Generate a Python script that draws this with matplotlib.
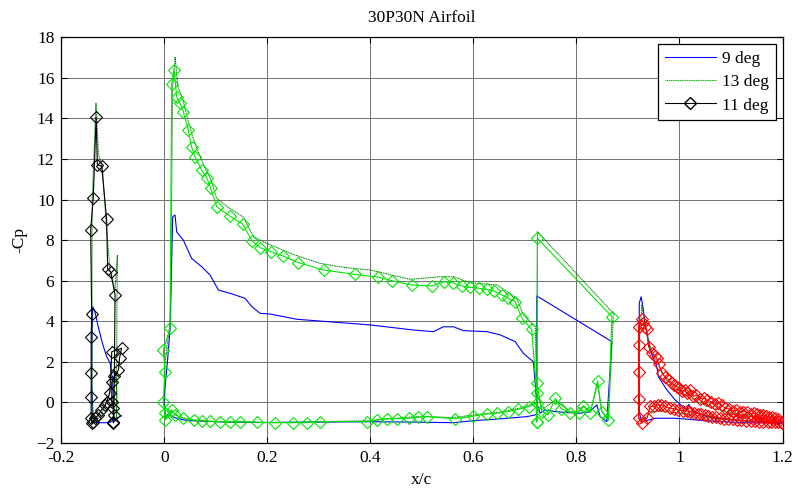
import matplotlib
matplotlib.use("Agg")
import matplotlib.pyplot as plt
from matplotlib.lines import Line2D

plt.rcParams['font.family'] = ['Liberation Serif', 'DejaVu Serif']

# ---------------- data ----------------
title = "30P30N Airfoil"
xlabel = "x/c"
ylabel = "-Cp"
legend_labels = ["9 deg", "13 deg", "11 deg"]
xticks = [-0.2, 0, 0.2, 0.4, 0.6, 0.8, 1, 1.2]
xtick_labels = ["-0.2", "0", "0.2", "0.4", "0.6", "0.8", "1", "1.2"]
yticks = [-2, 0, 2, 4, 6, 8, 10, 12, 14, 16, 18]

# ---- 9 deg (blue) ----
slat9_x = [-0.083, -0.090, -0.097, -0.100, -0.103, -0.110, -0.120, -0.130, -0.138, -0.141,
           -0.1405, -0.139, -0.135, -0.128, -0.120, -0.112, -0.105, -0.100, -0.098]
slat9_y = [-0.66, -0.75, -0.85, -0.90, -0.95, -1.00, -1.00, -1.00, -0.95, 1.00,
           3.00, 4.72, 4.50, 3.70, 2.90, 2.26, 1.93, 1.00, -0.86]

main9_x = [0.723, 0.7037, 0.652, 0.600, 0.561, 0.480, 0.400, 0.300, 0.186, 0.100, 0.050,
           0.037, 0.020, 0.008, 0.002, 0.000, 0.0014, 0.006, 0.011, 0.0163, 0.0208, 0.024,
           0.0369, 0.053, 0.0726, 0.0887, 0.105, 0.1276, 0.1567, 0.170, 0.186, 0.205,
           0.257, 0.400, 0.4835, 0.5225, 0.5417, 0.561, 0.5806, 0.626, 0.652, 0.681,
           0.697, 0.7165, 0.723, 0.7295, 0.739, 0.759, 0.7815, 0.807, 0.825, 0.8396,
           0.846, 0.859, 0.8687, 0.723, 0.723]
main9_y = [-0.60, -0.70, -0.81, -0.90, -1.00, -0.97, -0.95, -0.97, -0.99, -0.95, -0.90,
           -0.86, -0.75, -0.60, -0.70, 0.00, 0.78, 2.00, 3.57, 9.15, 9.24, 8.41,
           8.00, 7.10, 6.69, 6.28, 5.54, 5.38, 5.13, 4.72, 4.39, 4.36,
           4.10, 3.82, 3.57, 3.49, 3.73, 3.73, 3.54, 3.49, 3.33, 3.00,
           2.42, 2.00, -0.04, -0.53, -0.37, -0.45, -0.50, -0.53, -0.47, -0.12,
           -0.70, -0.95, 3.00, 5.25, -0.60]

flap9_x = [1.199, 1.160, 1.124, 1.090, 1.069, 1.0435, 1.027, 1.018, 1.014, 0.9917, 0.9755,
           0.959, 0.956, 0.943, 0.933, 0.930, 0.9256, 0.922, 0.9217, 0.922, 0.927, 0.953,
           0.9917, 1.050, 1.124, 1.199]
flap9_y = [-1.02, -0.95, -0.90, -0.82, -0.78, -0.62, -0.45, -0.10, -0.37, 0.12, 0.62,
           1.27, 1.76, 2.59, 3.90, 4.56, 5.21, 4.90, 2.00, -0.50, -0.95, -0.78,
           -0.78, -0.90, -1.00, -1.02]

# ---- 13 deg (green, dotted) ----
slat13_x = [-0.093, -0.092, -0.095, -0.105, -0.115, -0.125, -0.135, -0.140, -0.1405, -0.140,
            -0.1327, -0.128, -0.120, -0.112, -0.105, -0.096, -0.091, -0.092, -0.093]
slat13_y = [-0.90, 0.50, 1.50, 0.60, -0.20, -0.70, -0.95, -0.90, 5.00, 10.00,
            14.74, 12.27, 11.50, 8.50, 6.40, 5.50, 7.27, 5.00, -0.90]

main13_x = [0.723, 0.723, 0.707, 0.687, 0.650, 0.600, 0.560, 0.500, 0.450, 0.400, 0.300,
            0.200, 0.100, 0.050, 0.030, 0.020, 0.010, 0.002, 0.000, 0.000, 0.005, 0.012,
            0.016, 0.021, 0.026, 0.035, 0.045, 0.055, 0.065, 0.080, 0.090, 0.1017, 0.125,
            0.153, 0.173, 0.199, 0.250, 0.302, 0.350, 0.3994, 0.477, 0.5386, 0.561, 0.5936,
            0.646, 0.684, 0.697, 0.720, 0.723, 0.733, 0.759, 0.788, 0.804, 0.8136, 0.827,
            0.841, 0.849, 0.862, 0.8718, 0.7243, 0.723]
main13_y = [-0.95, 0.00, -0.15, -0.30, -0.48, -0.62, -0.75, -0.68, -0.78, -0.90, -0.95,
            -1.00, -0.95, -0.88, -0.70, -0.55, -0.40, -0.80, 0.00, 1.50, 2.80, 4.00,
            15.50, 17.03, 15.60, 15.00, 14.00, 13.10, 12.40, 11.50, 11.00, 10.06, 9.60,
            9.15, 8.17, 7.84, 7.30, 6.86, 6.65, 6.53, 6.07, 6.20, 6.20, 5.90,
            5.79, 5.13, 4.31, 3.73, 0.50, -0.35, 0.10, -0.45, -0.45, -0.15, -0.45,
            0.90, -0.40, -0.90, 4.39, 8.42, -0.95]

flap13_x = [1.199, 1.160, 1.120, 1.080, 1.050, 1.030, 1.010, 0.990, 0.975, 0.960, 0.945,
            0.935, 0.930, 0.927, 0.922, 0.921, 0.922, 0.930, 0.940, 0.950, 0.970, 0.995,
            1.020, 1.050, 1.080, 1.120, 1.160, 1.199]
flap13_y = [-0.95, -0.75, -0.60, -0.40, -0.15, 0.10, 0.40, 0.75, 1.10, 1.80, 2.60,
            3.60, 4.30, 4.80, 3.00, 0.00, -0.80, -0.85, -0.60, -0.45, -0.45, -0.50,
            -0.60, -0.70, -0.80, -0.90, -0.95, -1.00]

# ---- 11 deg (diamonds) ----
slat11_x = [-0.099, -0.099, -0.102, -0.102, -0.089, -0.087, -0.083, -0.102, -0.106, -0.112,
            -0.115, -0.122, -0.128, -0.134, -0.138, -0.141, -0.142, -0.142, -0.142, -0.142,
            -0.141, -0.143, -0.138, -0.1324, -0.130, -0.1216, -0.112, -0.110, -0.104,
            -0.0957, -0.097, -0.098, -0.099]
slat11_y = [-0.95, -0.29, 0.04, 1.02, 1.60, 2.18, 2.67, 2.50, 0.45, 0.04,
            -0.12, -0.37, -0.62, -0.78, -0.95, -1.03, -0.78, 0.29, 1.44, 3.24,
            4.34, 8.50, 10.06, 14.06, 11.70, 11.65, 9.02, 6.56, 6.44,
            5.30, 1.30, -0.60, -1.00]

main11_x = [0.723, 0.723, 0.707, 0.687, 0.668, 0.6454, 0.626, 0.600, 0.5645, 0.5095, 0.493,
            0.474, 0.451, 0.432, 0.4124, 0.393, 0.3023, 0.2765, 0.2505, 0.215, 0.180,
            0.147, 0.1276, 0.1082, 0.0887, 0.0726, 0.0567, 0.037, 0.0208, 0.0143, 0.001,
            0.001, -0.002, 0.0014, -0.002, 0.011, 0.0143, 0.0188, 0.024, 0.0305, 0.037,
            0.0466, 0.053, 0.0596, 0.0726, 0.0823, 0.090, 0.1017, 0.128, 0.152, 0.170,
            0.186, 0.2066, 0.230, 0.260, 0.309, 0.370, 0.4155, 0.4415, 0.480, 0.519,
            0.543, 0.560, 0.5775, 0.5936, 0.610, 0.626, 0.640, 0.655, 0.668, 0.681,
            0.694, 0.713, 0.723, 0.723, 0.733, 0.745, 0.759, 0.770, 0.788, 0.804,
            0.8136, 0.827, 0.841, 0.849, 0.862, 0.8687, 0.7243, 0.723]
main11_y = [-0.95, -0.04, -0.21, -0.34, -0.45, -0.53, -0.57, -0.67, -0.81, -0.70, -0.73,
            -0.78, -0.80, -0.80, -0.86, -0.95, -0.95, -1.00, -1.00, -1.00, -0.97,
            -0.95, -0.95, -0.95, -0.92, -0.90, -0.86, -0.78, -0.62, -0.37, -0.86,
            -0.53, 0.04, 1.52, 2.59, 3.65, 15.72, 16.41, 15.07, 14.74, 14.33,
            13.42, 12.60, 12.10, 11.45, 11.08, 10.55, 9.65, 9.17, 8.80, 7.97,
            7.63, 7.43, 7.22, 6.89, 6.53, 6.31, 6.18, 6.00, 5.79, 5.74,
            5.95, 5.90, 5.74, 5.67, 5.63, 5.57, 5.49, 5.30, 5.13, 4.97,
            4.15, 3.60, 0.45, 0.95, -0.45, -0.60, 0.20, -0.30, -0.50, -0.50,
            -0.20, -0.50, 1.06, -0.45, -0.86, 4.23, 8.09, -0.95]

flap11_x = [1.199, 1.192, 1.186, 1.180, 1.174, 1.168, 1.162, 1.156, 1.150, 1.144, 1.138,
            1.131, 1.124, 1.117, 1.110, 1.103, 1.096, 1.089, 1.082, 1.075, 1.068, 1.061,
            1.054, 1.047, 1.040, 1.033, 1.027, 1.021, 1.015, 1.010, 1.005, 1.000, 0.995,
            0.990, 0.985, 0.979, 0.972, 0.966, 0.960, 0.956, 0.953, 0.947, 0.940, 0.936,
            0.933, 0.930, 0.927, 0.9205, 0.9205, 0.9205, 0.9205, 0.9205, 0.927, 0.937,
            0.943, 0.950, 0.959, 0.965, 0.972, 0.982, 0.990, 0.998, 1.006, 1.014, 1.021,
            1.028, 1.035, 1.042, 1.049, 1.056, 1.063, 1.070, 1.079, 1.087, 1.095, 1.103,
            1.111, 1.120, 1.129, 1.138, 1.147, 1.155, 1.163, 1.171, 1.178, 1.185, 1.192,
            1.199]
flap11_y = [-0.95, -0.82, -0.78, -0.70, -0.72, -0.66, -0.62, -0.63, -0.57, -0.53, -0.55,
            -0.48, -0.45, -0.47, -0.37, -0.40, -0.32, -0.29, -0.15, -0.04, -0.08, 0.04,
            0.10, 0.21, 0.18, 0.37, 0.30, 0.62, 0.45, 0.62, 0.55, 0.70, 0.78,
            0.85, 0.95, 1.11, 1.27, 1.44, 1.90, 2.18, 2.30, 2.42, 2.75, 3.60,
            3.73, 3.90, 4.10, 3.73, 2.83, 1.52, 0.16, -0.78, -1.02, -0.78,
            -0.20, -0.20, -0.12, -0.15, -0.20, -0.29, -0.30, -0.37, -0.40, -0.42, -0.45,
            -0.50, -0.55, -0.58, -0.62, -0.66, -0.70, -0.72, -0.78, -0.80, -0.82, -0.84,
            -0.86, -0.88, -0.90, -0.92, -0.93, -0.95, -0.95, -0.96, -0.95, -0.95, -0.97,
            -1.00]

# ---------------- plot ----------------
W, H = 798, 493
fig = plt.figure(figsize=(W / 100, H / 100), dpi=100)
ax = fig.add_axes([61.3 / W, 50 / H, (782.5 - 61.3) / W, (455.7 - 50) / H])

blue = '#0000ff'
green13 = '#008000'
lw = 0.8
ms = 6.3

for xs, ys in [(slat9_x, slat9_y), (main9_x, main9_y), (flap9_x, flap9_y)]:
    ax.plot(xs, ys, color=blue, lw=lw, zorder=3)
for xs, ys in [(slat13_x, slat13_y), (main13_x, main13_y), (flap13_x, flap13_y)]:
    ax.plot(xs, ys, color=green13, lw=lw, ls=(0, (1, 0.6)), zorder=4)
for (xs, ys), c in [((slat11_x, slat11_y), 'black'),
                    ((main11_x, main11_y), '#00e600'),
                    ((flap11_x, flap11_y), '#ff0000')]:
    ax.plot(xs, ys, color=c, lw=lw, marker='D', ms=ms, mfc='none', mec=c,
            mew=0.8, zorder=5)

ax.set_xlim(-0.2, 1.2)
ax.set_ylim(-2, 18)
ax.set_xticks(xticks)
ax.set_xticklabels(xtick_labels)
ax.set_yticks(yticks)
ax.grid(True, color='#707070', lw=0.7, zorder=0)
ax.set_axisbelow(True)
ax.tick_params(direction='in', length=4, top=True, right=True, labelsize=12.5,
               pad=5)
for s in ax.spines.values():
    s.set_linewidth(0.9)

ax.set_title(title, fontsize=12.5, pad=11)
ax.set_xlabel(xlabel, fontsize=12.5, labelpad=4)
ax.set_ylabel(ylabel, fontsize=12.5, labelpad=6)

handles = [Line2D([], [], color=blue, lw=lw),
           Line2D([], [], color='#00b000', lw=lw, ls=(0, (1, 0.6))),
           Line2D([], [], color='black', lw=lw, marker='D', ms=ms, mfc='none')]
leg = ax.legend(handles, legend_labels, loc='upper right', fontsize=12.5,
                fancybox=False, framealpha=1, edgecolor='black',
                borderaxespad=0.4, handlelength=2.9, labelspacing=0.4,
                borderpad=0.4, handletextpad=0.35)
leg.get_frame().set_linewidth(0.9)

fig.savefig('out.png', dpi=100)
